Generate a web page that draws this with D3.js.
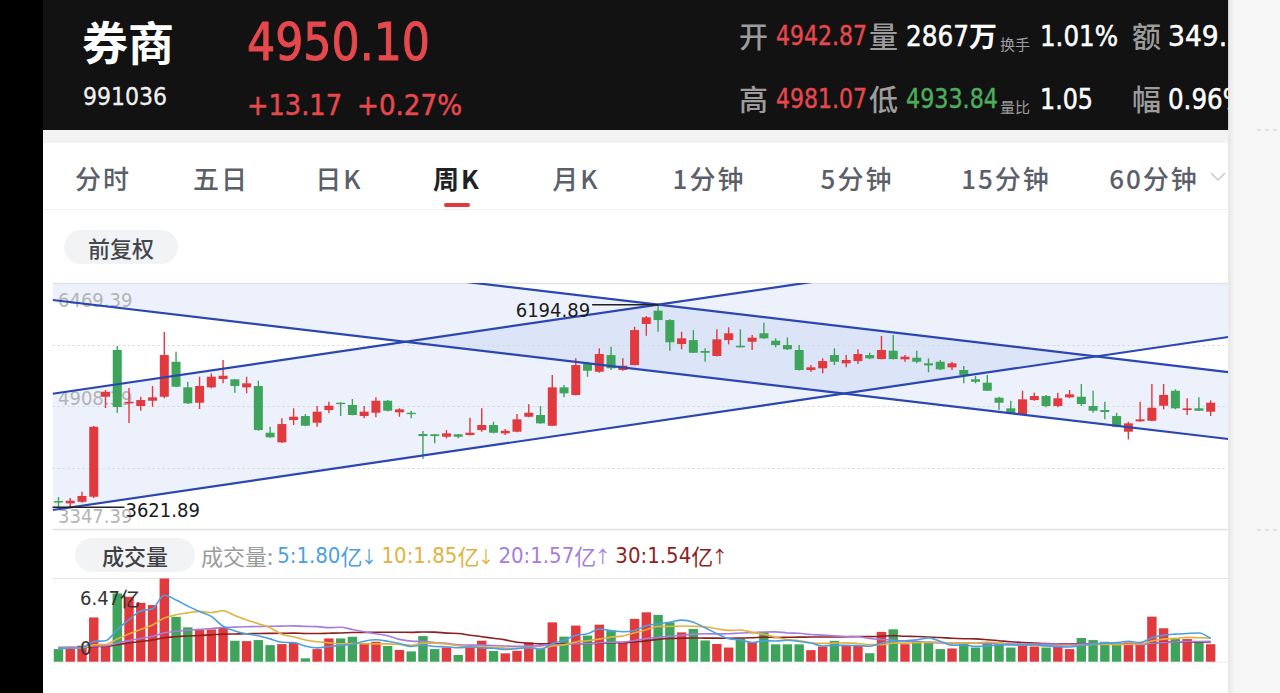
<!DOCTYPE html>
<html>
<head>
<meta charset="utf-8">
<script src="https://cdn.jsdelivr.net/npm/d3@7"></script>
<style>
  html, body { margin: 0; padding: 0; background: #000; overflow: hidden; }
  svg { display: block; }
</style>
</head>
<body>
<svg id="chart"></svg>
<script>
// weekly K data, oldest -> newest
const opens = [3702,3673,3693,3757,5026,5619,4942,4908,4975,5026,5470,5145,4950,5145,5251,5247,5145,5162,4569,4447,
  4730,4781,4696,4857,4950,4921,4781,4823,4975,4828,4823,4553,4549,4518,4549,4540,4603,4667,4561,4582,
  4772,4794,4658,5145,5048,5441,5343,5555,5365,5428,5949,6118,5999,5695,5745,5606,5543,5745,5673,5724,
  5831,5737,5682,5619,5365,5387,5555,5450,5479,5555,5504,5610,5501,5521,5450,5470,5399,5365,5247,5204,
  5013,4879,4806,4984,5035,4908,5018,5026,4908,4857,4781,4582,4714,4721,4912,5102,4857,4879,4836];
const highs = [3753,3740,3820,4654,5111,5669,5136,5026,5162,5847,5597,5216,5280,5323,5492,5251,5280,5229,4645,4752,
  4879,4806,4908,4962,4955,4997,4908,5018,4984,4879,4848,4591,4553,4603,4553,4760,4879,4709,4616,4806,
  4930,4908,5301,5174,5513,5470,5640,5661,5513,5914,6050,6194.89,6008,5851,5872,5640,5881,5907,5881,5809,
  5966,5767,5780,5682,5428,5513,5640,5555,5628,5584,5796,5809,5555,5610,5513,5492,5470,5416,5289,5301,
  5026,4975,5102,5077,5048,5077,5111,5187,5102,4962,4823,4709,4962,5187,5187,5120,5006,5018,4981.07];
const lows = [3621.89,3626,3681,3740,4883,4823,4692,4848,4899,5006,5145,4933,4870,5133,5196,5077,5069,4594,4505,4440,
  4667,4652,4645,4815,4781,4790,4752,4765,4840,4772,4752,4239,4435,4498,4498,4535,4582,4561,4540,4576,
  4765,4683,4652,5018,5043,5280,5331,5365,5356,5423,5800,5851,5610,5628,5580,5470,5538,5691,5650,5619,
  5762,5653,5619,5360,5343,5323,5428,5399,5441,5501,5500,5500,5470,5450,5336,5365,5365,5196,5196,5098,
  4857,4806,4800,4975,4891,4891,5006,4908,4823,4739,4638,4485,4709,4716,4866,4866,4794,4845,4781];
const closes = [3683,3706,3766,4645,5089,4895,4962,4984,5018,5555,5153,4942,5162,5280,5292,5162,5196,4603,4511,4679,
  4772,4658,4836,4912,4940,4794,4836,4975,4848,4866,4806,4527,4527,4561,4518,4569,4667,4569,4594,4739,
  4823,4688,5145,5069,5428,5356,5568,5387,5420,5872,6034,5999,5717,5767,5584,5584,5754,5831,5653,5775,
  5767,5682,5628,5365,5399,5479,5470,5492,5568,5513,5619,5504,5534,5470,5424,5374,5450,5301,5216,5102,
  4950,4815,4993,5035,4908,5006,5056,4933,4848,4832,4645,4688,4739,4886,5048,4879,4879,4848,4950.10];
// 成交量, 亿
const volumes = [0.98,1.16,1.25,3.44,1.29,5.31,5.05,4.58,4.40,6.47,3.49,2.67,2.46,2.51,2.67,1.63,1.60,1.68,1.29,1.37,
  1.47,0.26,0.98,1.81,1.81,1.94,1.42,1.55,1.22,0.91,0.80,1.99,0.98,1.11,0.52,1.11,1.63,0.83,0.65,0.85,
  1.50,0.99,3.06,1.95,2.81,2.03,2.88,2.42,1.50,3.33,3.84,3.64,3.06,2.28,2.55,1.65,1.38,1.10,1.80,1.52,
  2.30,1.35,1.35,1.35,0.90,1.18,1.62,1.28,1.28,0.66,2.32,2.52,1.36,1.62,1.44,0.98,1.03,1.42,1.10,1.50,
  1.50,1.10,1.30,1.18,1.10,1.18,0.98,1.84,1.68,1.55,1.36,1.50,1.36,3.50,2.60,1.76,1.76,1.55,1.36];

const priceTicks = [6469.39, 4908.39, 3347.39];
const maPeriods = [5, 10, 20, 30];
const maSeeds = [1.05, 1.05, 1.1, 1.1];          // level of each MA at the left edge
const maLegendValues = ['1.80', '1.85', '1.57', '1.54'];
const maLegendArrows = ['↓', '↓', '↑', '↑'];

// drawn channels: [index, lower price, upper price]
const ascChannel = [[-0.5, 3588.5, 5064.2], [99.5, 5784.1, 7259.7]];
const descChannel = [[-0.5, 6253.6, 7103.4], [99.5, 4489.6, 5339.4]];

const tabLabels = ['分时', '五日', '日K', '周K', '月K', '1分钟', '5分钟', '15分钟', '60分钟'];
const activeTab = '周K';

const stockName = '券商';
const stockCode = '991036';
const lastPrice = '4950.10';
const priceChange = ['+13.17', '+0.27%'];
const statKeys = [['开', '量', '换手', '额'], ['高', '低', '量比', '幅']];
const statValues = [['4942.87', '2867', '1.01%', '349.5'], ['4981.07', '4933.84', '1.05', '0.96%']];

const RED = '#e0393e', GREEN = '#3ea35b';
const maColors = ['#4d9fe2', '#e2b23e', '#a57ddf', '#8e1f1f'];
const numFont = "'DejaVu Sans Condensed','DejaVu Sans',sans-serif";
const cjkFont = "'Noto Sans CJK SC','Noto Sans',sans-serif";

class KLineChart {

  constructor(_config) {
    this.config = {
      parentElement: _config.parentElement,
      containerWidth: _config.containerWidth || 1280,
      containerHeight: _config.containerHeight || 693,
      plotLeft: 52.6, plotRight: 1228.3,
      priceTop: 283, priceBottom: 529,
      volTop: 578.5, volBottom: 661.7
    };
    this.initVis();
  }

  initVis() {
    let vis = this;
    const c = vis.config;

    vis.svg = d3.select(c.parentElement)
      .attr('width', c.containerWidth)
      .attr('height', c.containerHeight);

    // page background
    vis.svg.append('rect')
      .attr('width', c.containerWidth).attr('height', c.containerHeight)
      .attr('fill', '#fff');

    vis.n = closes.length;
    vis.xScale = d3.scaleLinear()
      .domain([-0.5, vis.n + 0.5])
      .range([c.plotLeft, c.plotRight]);
    vis.yScale = d3.scaleLinear()
      .domain([priceTicks[2], priceTicks[0]])
      .range([c.priceBottom, c.priceTop]);
    vis.vScale = d3.scaleLinear()
      .domain([0, d3.max(volumes)])
      .range([c.volBottom, c.volTop]);

    vis.renderHeader();
    vis.renderTabs();
    vis.renderPrice();
    vis.renderVolume();
    vis.renderFrame();
  }

  renderHeader() {
    let vis = this;
    const g = vis.svg.append('g');
    g.append('rect').attr('x', 43).attr('y', 0).attr('width', 1190).attr('height', 130).attr('fill', '#121212');
    g.append('rect').attr('x', 43).attr('y', 130).attr('width', 1190).attr('height', 13).attr('fill', '#f3f3f3');

    const txt = (x, y, s, size, fill, font, opts = {}) => {
      const t = g.append('text')
        .attr('x', x).attr('y', y)
        .attr('dominant-baseline', 'central')
        .attr('font-family', font)
        .attr('font-size', size)
        .attr('font-weight', opts.weight || 'normal')
        .attr('fill', fill)
        .text(s);
      if (opts.len) t.attr('textLength', opts.len).attr('lengthAdjust', 'spacingAndGlyphs');
      // DIN digits are a touch heavier than DejaVu book
      if (opts.thick) t.attr('stroke', fill).attr('stroke-width', opts.thick);
      return t;
    };

    txt(82, 40, stockName, 46, '#fff', cjkFont, {weight: 'bold'});
    txt(83, 97, stockCode, 24, '#f0f0f0', numFont, {len: 84, thick: 0.3});
    txt(247, 42, lastPrice, 52, '#e5484d', numFont, {len: 183, thick: 1});
    txt(247, 105, priceChange[0], 29, '#e5484d', numFont, {len: 95, thick: 0.5});
    txt(357, 105, priceChange[1], 29, '#e5484d', numFont, {len: 105, thick: 0.5});

    const rows = [35, 98];
    rows.forEach((y, r) => {
      const [k0, k1, k2, k3] = statKeys[r];
      const [v0, v1, v2, v3] = statValues[r];
      txt(739, y, k0, 29, '#9c9c9c', cjkFont, {weight: 500});
      txt(776, y + 1, v0, 26, '#e5484d', numFont, {len: 91, thick: 0.4});
      txt(869, y, k1, 29, '#9c9c9c', cjkFont, {weight: 500});
      if (r === 0) {
        txt(906, y + 1, v1, 28, '#fff', numFont, {len: 63, thick: 0.5});
        txt(969, y, '万', 28, '#fff', cjkFont, {weight: 'bold'});
      } else {
        txt(906, y + 1, v1, 26, '#4cae5c', numFont, {len: 92, thick: 0.4});
      }
      txt(1000, y + 8, k2, 15, '#9c9c9c', cjkFont);
      txt(1040, y + 1, v2, 28, '#fff', numFont, {len: r === 0 ? 78 : 53, thick: 0.5});
      txt(1132, y, k3, 29, '#9c9c9c', cjkFont, {weight: 500});
      txt(1168, y + 1, v3, 28, '#fff', numFont, {len: r === 0 ? 76 : 78, thick: 0.5});
    });
  }

  renderTabs() {
    let vis = this;
    const g = vis.svg.append('g');
    const centers = [103, 221, 339, 457, 576, 709, 857, 1006, 1154];
    g.selectAll('.tab')
      .data(tabLabels)
      .join('text')
      .attr('class', 'tab')
      .attr('x', (d, i) => centers[i])
      .attr('y', 177)
      .attr('text-anchor', 'middle')
      .attr('dominant-baseline', 'central')
      .attr('font-family', cjkFont)
      .attr('font-size', 26)
      .attr('letter-spacing', 2)
      .attr('font-weight', d => d === activeTab ? 'bold' : 500)
      .attr('fill', d => d === activeTab ? '#1f2126' : '#5b6068')
      .text(d => d);

    g.append('rect').attr('x', 444).attr('y', 203).attr('width', 26).attr('height', 4).attr('rx', 2).attr('fill', RED);
    g.append('path').attr('d', 'M1211,173 L1218,180 L1225,173').attr('fill', 'none').attr('stroke', '#c9c9c9').attr('stroke-width', 1.5);
    g.append('line').attr('x1', 43).attr('x2', 1228).attr('y1', 209.5).attr('y2', 209.5).attr('stroke', '#efefef');

    // 前复权 pill
    g.append('rect').attr('x', 64).attr('y', 230).attr('width', 114).attr('height', 34).attr('rx', 17).attr('fill', '#f2f3f5');
    g.append('text').attr('x', 121).attr('y', 247)
      .attr('text-anchor', 'middle').attr('dominant-baseline', 'central')
      .attr('font-family', cjkFont).attr('font-size', 22).attr('font-weight', 500)
      .attr('fill', '#45474c').text('前复权');
  }

  renderPrice() {
    let vis = this;
    const c = vis.config;
    const x = vis.xScale, y = vis.yScale;
    const g = vis.svg.append('g');

    vis.svg.append('clipPath').attr('id', 'plotClip')
      .append('rect')
      .attr('x', c.plotLeft).attr('y', c.priceTop)
      .attr('width', c.plotRight - c.plotLeft).attr('height', c.priceBottom - c.priceTop);

    // channel fills (overlap comes out darker)
    const area = d3.area().x(d => x(d[0])).y0(d => y(d[1])).y1(d => y(d[2]));
    const fills = g.append('g').attr('clip-path', 'url(#plotClip)');
    [ascChannel, descChannel].forEach(ch => {
      fills.append('path').attr('d', area(ch)).attr('fill', 'rgb(50,90,210)').attr('fill-opacity', 0.085);
    });

    // grid
    const gridVals = d3.range(5).map(k => priceTicks[2] + k * (priceTicks[0] - priceTicks[2]) / 4);
    g.selectAll('.grid')
      .data(gridVals)
      .join('line')
      .attr('class', 'grid')
      .attr('x1', c.plotLeft).attr('x2', c.plotRight)
      .attr('y1', d => Math.round(y(d)) + 0.5).attr('y2', d => Math.round(y(d)) + 0.5)
      .attr('stroke', (d, i) => (i === 0 || i === 4) ? '#e2e2e2' : '#d6d6d6')
      .attr('stroke-width', (d, i) => (i === 0 || i === 4) ? 1.5 : 1)
      .attr('stroke-dasharray', (d, i) => (i === 0 || i === 4) ? null : '2,3');

    // axis labels sit behind the marks
    const labelDy = [17, -8, -13];
    g.selectAll('.plabel')
      .data(priceTicks)
      .join('text')
      .attr('class', 'plabel')
      .attr('x', 58)
      .attr('y', (d, i) => y(d) + labelDy[i])
      .attr('dominant-baseline', 'central')
      .attr('font-family', numFont).attr('font-size', 20)
      .attr('fill', '#b4b4b4')
      .text(d => d.toFixed(2));

    // candles
    const idx = d3.range(vis.n);
    const up = i => closes[i] >= opens[i];
    const bodyW = 9;
    g.selectAll('.wick')
      .data(idx)
      .join('line')
      .attr('class', 'wick')
      .attr('x1', i => x(i)).attr('x2', i => x(i))
      .attr('y1', i => y(highs[i])).attr('y2', i => y(lows[i]))
      .attr('stroke', i => up(i) ? RED : GREEN)
      .attr('stroke-width', 1.4);
    g.selectAll('.body')
      .data(idx)
      .join('rect')
      .attr('class', 'body')
      .attr('x', i => x(i) - bodyW / 2)
      .attr('y', i => y(Math.max(opens[i], closes[i])))
      .attr('width', bodyW)
      .attr('height', i => Math.max(1.4, Math.abs(y(opens[i]) - y(closes[i]))))
      .attr('fill', i => up(i) ? RED : GREEN);

    // channel lines on top
    const line = d3.line().x(d => x(d[0])).y(d => y(d[1]));
    const lines = g.append('g').attr('clip-path', 'url(#plotClip)');
    [ascChannel, descChannel].forEach(ch => {
      [1, 2].forEach(k => {
        lines.append('path')
          .attr('d', line(ch.map(p => [p[0], p[k]])))
          .attr('fill', 'none')
          .attr('stroke', '#2a46b0')
          .attr('stroke-width', 2.2);
      });
    });

    // max / min markers
    const hiIdx = d3.maxIndex(highs), loIdx = d3.minIndex(lows);
    g.append('line')
      .attr('x1', x(hiIdx) - 66).attr('x2', x(hiIdx))
      .attr('y1', y(highs[hiIdx])).attr('y2', y(highs[hiIdx]))
      .attr('stroke', '#222').attr('stroke-width', 1.5);
    g.append('text')
      .attr('x', x(hiIdx) - 68).attr('y', y(highs[hiIdx]) + 5)
      .attr('text-anchor', 'end').attr('dominant-baseline', 'central')
      .attr('font-family', numFont).attr('font-size', 20).attr('fill', '#1c1c1c')
      .text(highs[hiIdx].toFixed(2));
    g.append('line')
      .attr('x1', x(loIdx) - 6).attr('x2', x(loIdx) + 66)
      .attr('y1', y(lows[loIdx])).attr('y2', y(lows[loIdx]))
      .attr('stroke', '#222').attr('stroke-width', 1.5);
    g.append('text')
      .attr('x', x(loIdx) + 67).attr('y', y(lows[loIdx]) + 3)
      .attr('dominant-baseline', 'central')
      .attr('font-family', numFont).attr('font-size', 20).attr('fill', '#1c1c1c')
      .text(lows[loIdx].toFixed(2));
  }

  renderVolume() {
    let vis = this;
    const c = vis.config;
    const x = vis.xScale, v = vis.vScale;
    const g = vis.svg.append('g');

    // 成交量 pill + legend
    g.append('rect').attr('x', 75).attr('y', 538).attr('width', 120).attr('height', 34).attr('rx', 17).attr('fill', '#f2f3f5');
    g.append('text').attr('x', 135).attr('y', 555)
      .attr('text-anchor', 'middle').attr('dominant-baseline', 'central')
      .attr('font-family', cjkFont).attr('font-size', 22).attr('font-weight', 500)
      .attr('fill', '#3f4146').text('成交量');

    const legend = g.append('text').attr('x', 201).attr('y', 555)
      .attr('dominant-baseline', 'central')
      .attr('font-family', numFont).attr('font-size', 22);
    legend.append('tspan').attr('fill', '#9b9b9b').attr('font-family', cjkFont).text('成交量:');
    maPeriods.forEach((p, i) => {
      legend.append('tspan').attr('dx', i === 0 ? 4 : 4).attr('fill', maColors[i])
        .text(`${p}:${maLegendValues[i]}`);
      legend.append('tspan').attr('fill', maColors[i]).attr('font-family', cjkFont).text('亿');
      legend.append('tspan').attr('dx', -2).attr('fill', maColors[i]).attr('font-family', cjkFont).attr('font-size', 17).text(maLegendArrows[i]);
    });

    g.append('line').attr('x1', c.plotLeft).attr('x2', c.plotRight).attr('y1', 578.5).attr('y2', 578.5).attr('stroke', '#e3e3e3').attr('stroke-width', 1.2);
    g.append('line').attr('x1', c.plotLeft).attr('x2', c.plotRight).attr('y1', c.volBottom + 0.5).attr('y2', c.volBottom + 0.5).attr('stroke', '#ececec');

    const idx = d3.range(vis.n);
    const barW = 9.4;
    g.selectAll('.vol')
      .data(idx)
      .join('rect')
      .attr('class', 'vol')
      .attr('x', i => x(i) - barW / 2)
      .attr('y', i => v(volumes[i]))
      .attr('width', barW)
      .attr('height', i => c.volBottom - v(volumes[i]))
      .attr('fill', i => closes[i] >= opens[i] ? RED : GREEN);

    // moving averages of the bars
    const ma = (n, seed) => volumes.map((d, i) => {
      let s = 0;
      for (let k = i - n + 1; k <= i; k++) s += k >= 0 ? volumes[k] : seed;
      return s / n;
    });
    const maLine = d3.line().x((d, i) => x(i)).y(d => v(d)).curve(d3.curveMonotoneX);
    maPeriods.slice().reverse().forEach(p => {
      const i = maPeriods.indexOf(p);
      g.append('path')
        .attr('d', maLine(ma(p, maSeeds[i])))
        .attr('fill', 'none')
        .attr('stroke', maColors[i])
        .attr('stroke-width', 1.6);
    });

    g.append('text').attr('x', 80).attr('y', 598)
      .attr('dominant-baseline', 'central')
      .attr('font-family', numFont).attr('font-size', 20).attr('fill', '#333')
      .text(d3.max(volumes).toFixed(2))
      .append('tspan').attr('font-family', cjkFont).text('亿');
    g.append('text').attr('x', 80).attr('y', 648)
      .attr('dominant-baseline', 'central')
      .attr('font-family', numFont).attr('font-size', 20).attr('fill', '#333')
      .text('0');
  }

  renderFrame() {
    let vis = this;
    const c = vis.config;
    // black strip on the left, grey panel on the right
    vis.svg.append('rect').attr('x', 0).attr('y', 0).attr('width', 43).attr('height', c.containerHeight).attr('fill', '#000');
    const defs = vis.svg.append('defs');
    const grad = defs.append('linearGradient').attr('id', 'shade').attr('x1', 0).attr('x2', 1);
    grad.append('stop').attr('offset', 0).attr('stop-color', '#e4e4e4');
    grad.append('stop').attr('offset', 1).attr('stop-color', '#f7f7f7');
    vis.svg.append('rect').attr('x', 1228.3).attr('y', 0).attr('width', 52).attr('height', c.containerHeight).attr('fill', '#f7f7f7');
    vis.svg.append('rect').attr('x', 1228.3).attr('y', 0).attr('width', 6).attr('height', c.containerHeight).attr('fill', 'url(#shade)');
    [130, 530].forEach(yy => {
      vis.svg.append('line').attr('x1', 1257).attr('x2', 1280).attr('y1', yy).attr('y2', yy)
        .attr('stroke', '#c9c9c9').attr('stroke-dasharray', '4,4');
    });
  }
}

new KLineChart({ parentElement: '#chart' });
</script>
</body>
</html>
